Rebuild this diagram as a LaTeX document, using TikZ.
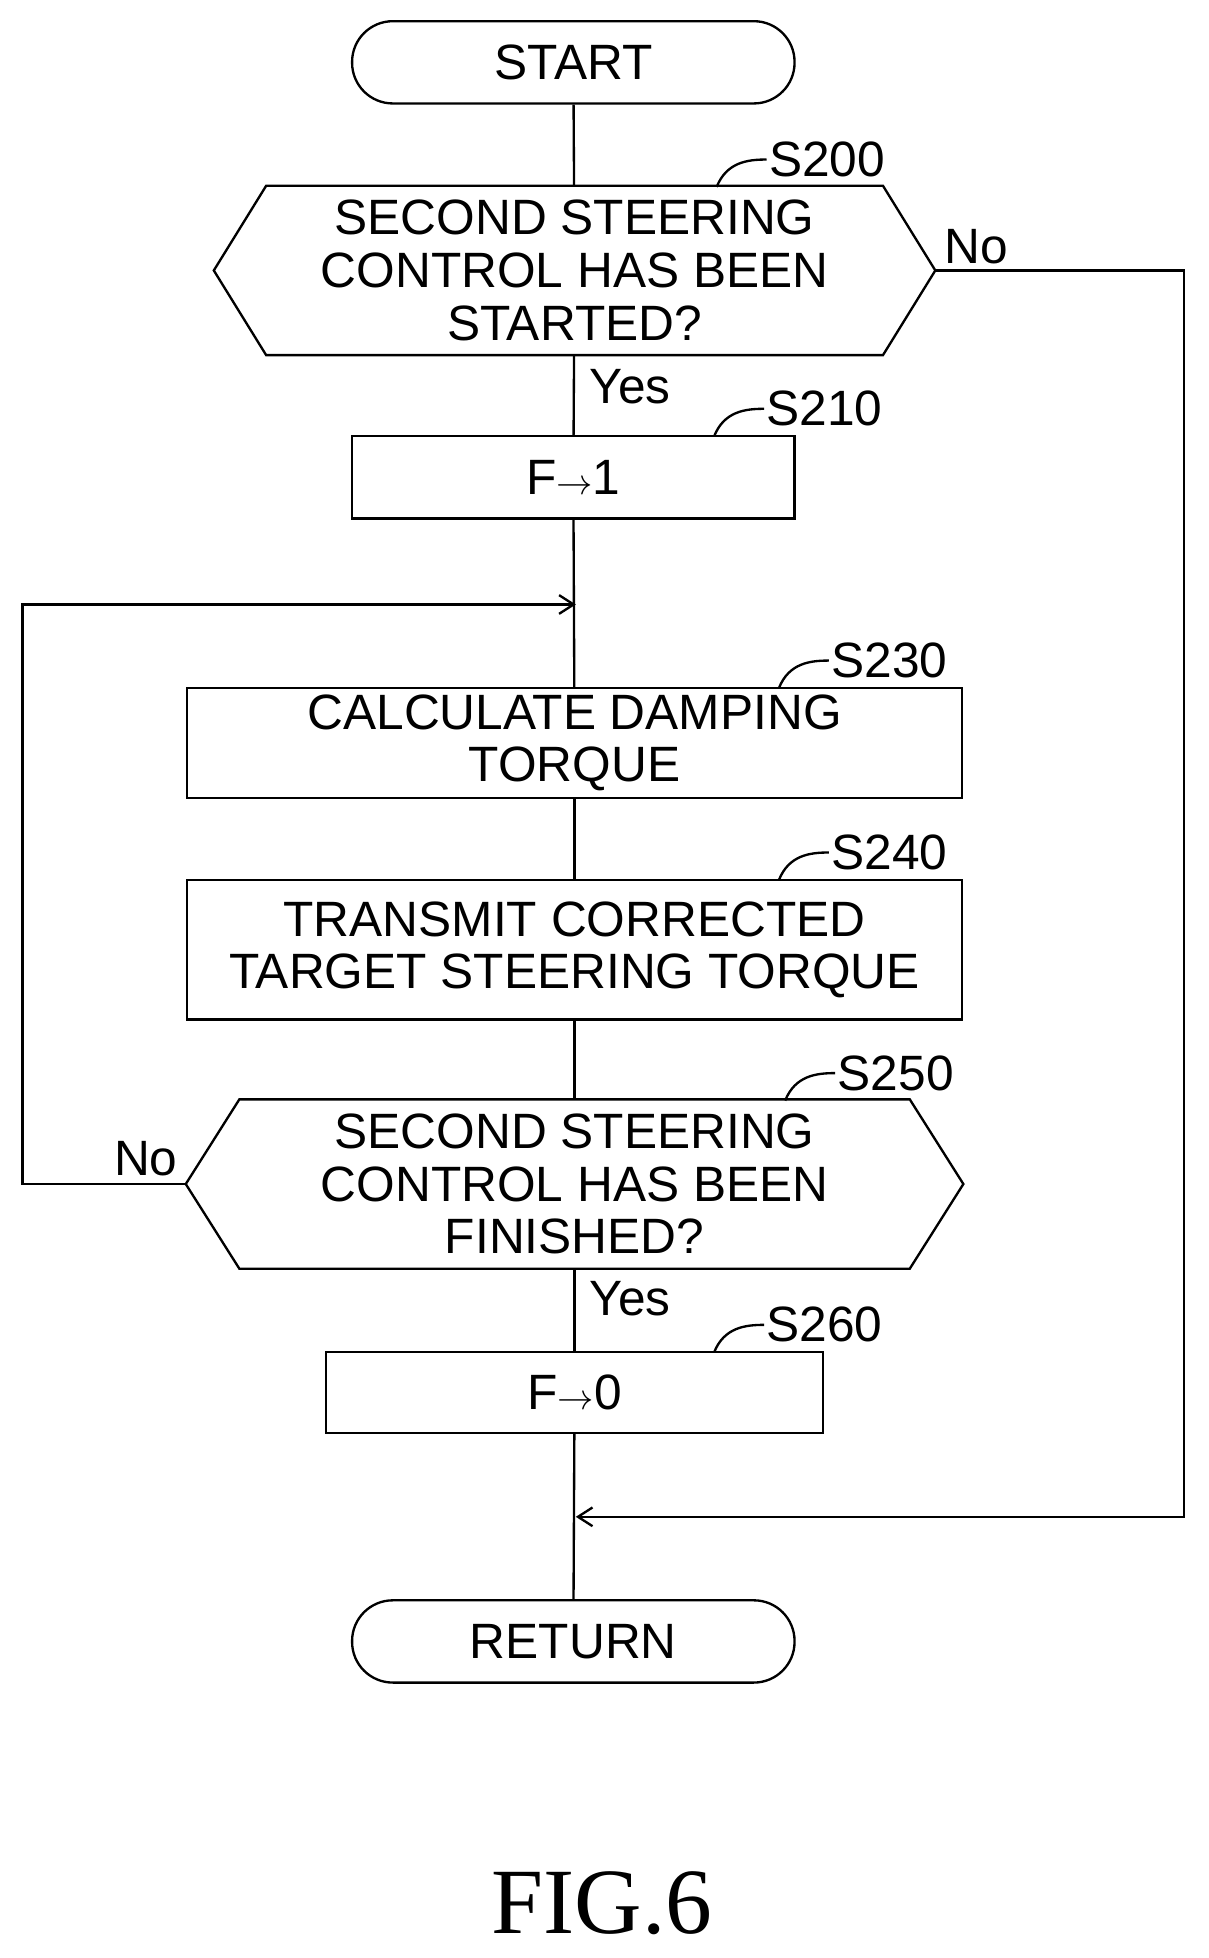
\documentclass[tikz,border=0pt]{standalone}
\usepackage{fontspec}
\setmainfont{Liberation Serif}
\setsansfont{Liberation Sans}
\usetikzlibrary{positioning,arrows.meta}

\tikzset{
    flow/.style={line width=1.6pt},
    txt/.style={font=\sffamily\fontsize{34}{36}\selectfont, align=center, inner sep=0pt},
    box/.style={draw, flow, txt},
    term/.style={box, rounded corners=0.98cm, minimum width=10.65cm, minimum height=1.98cm},
    lbl/.style={txt},
    tip/.style={-{Straight Barb[length=0.35cm,width=0.45cm,line width=1.6pt]}},
}

\begin{document}
\begin{tikzpicture}[x=0.03cm, y=-0.03cm, flow]
    \useasboundingbox (0,0) rectangle (970,1571);

    % Terminals
    \node[term] (start) at (460,50) {START};
    \node[term] (ret) at (460,1317) {RETURN};

    % Decision S200
    \node[txt, minimum width=17.31cm, minimum height=4.02cm] (s200) at (461,217)
        {SECOND STEERING\\CONTROL HAS BEEN\\STARTED?};
    \draw (s200.west) -- ([xshift=42*0.03cm]s200.north west) -- ([xshift=-42*0.03cm]s200.north east)
        -- (s200.east) -- ([xshift=-42*0.03cm]s200.south east) -- ([xshift=42*0.03cm]s200.south west) -- cycle;

    % Processes
    \node[box, minimum width=10.65cm, minimum height=1.98cm] (s210) at (460,383) {F$\rightarrow$1};
    \node[box, minimum width=18.66cm, minimum height=2.64cm] (s230) at (461,596) {CALCULATE DAMPING\\TORQUE};
    \node[box, minimum width=18.66cm, minimum height=3.36cm] (s240) at (461,762) {TRANSMIT CORRECTED\\TARGET STEERING TORQUE};

    % Decision S250
    \node[txt, minimum width=18.66cm, minimum height=4.02cm] (s250) at (461,950)
        {SECOND STEERING\\CONTROL HAS BEEN\\FINISHED?};
    \draw (s250.west) -- ([xshift=43*0.03cm]s250.north west) -- ([xshift=-43*0.03cm]s250.north east)
        -- (s250.east) -- ([xshift=-43*0.03cm]s250.south east) -- ([xshift=43*0.03cm]s250.south west) -- cycle;

    \node[box, minimum width=11.97cm, minimum height=1.95cm] (s260) at (461,1117) {F$\rightarrow$0};

    % Merge points
    \coordinate (loop) at (462,485);
    \coordinate (join) at (462,1217);

    % Connections
    \draw (start) -- (s200);
    \draw (s200) -- (s210);
    \draw (s210) -- (s230);
    \draw (s230) -- (s240);
    \draw (s240) -- (s250);
    \draw (s250) -- (s260);
    \draw (s260) -- (ret);
    \draw[tip] (s200.east) -- (950,217) -- (950,1217) -- (join);
    \draw[tip] (s250.west) -- (18,950) -- (18,485) -- (loop);

    % Branch labels
    \node[lbl, anchor=west] at (472,310) {Yes};
    \node[lbl, anchor=west] at (472,1042) {Yes};
    \node[lbl] at (783,198) {No};
    \node[lbl] at (117,930) {No};

    % Step labels
    \foreach \nm/\x/\y in {S200/575/150, S210/573/350, S230/625/552, S240/625/706, S250/630/883, S260/573/1085}{
        \draw (\x,\y) .. controls (\x+8,\y-20) and (\x+25,\y-22) .. (\x+40,\y-22)
            node[lbl, anchor=west, inner sep=1pt] {\nm};
    }

    % Title
    \node[font=\fontsize{64}{66}\selectfont] (fig) at (483,1527) {FIG.6};
\end{tikzpicture}
\end{document}
